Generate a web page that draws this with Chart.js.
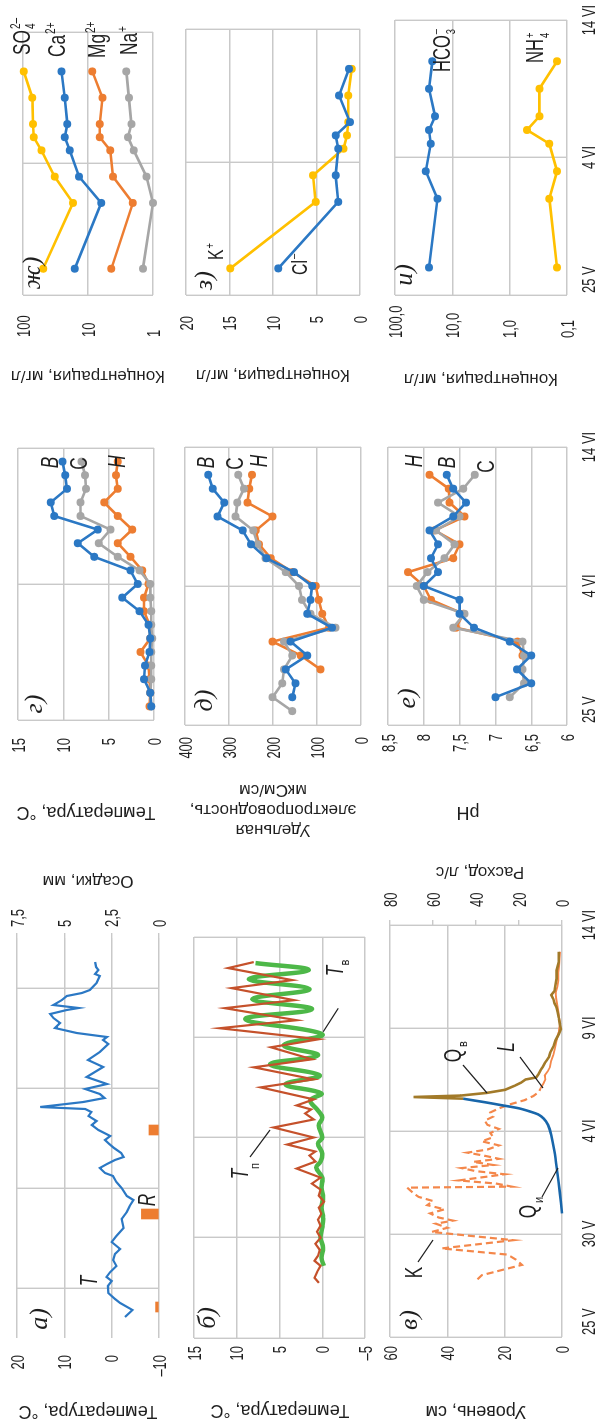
<!DOCTYPE html>
<html>
<head>
<meta charset="utf-8">
<script src="https://cdn.jsdelivr.net/npm/chart.js@4.4.1/dist/chart.umd.min.js"></script>
<style>
html, body { margin: 0; padding: 0; background: #fff; overflow: hidden; }
body { width: 598px; height: 1422px; position: relative; }
#fig { position: absolute; left: 0; top: 0; width: 1422px; height: 598px;
       transform-origin: 0 0; transform: rotate(-90deg) translate(-1422px, 0); }
#fig canvas { position: absolute; }
</style>
</head>
<body>
<div id="fig"></div>
<script>
// days are counted from 25 May (25 V = 0, 14 VI = 20)
var dateTickDays = [0, 5, 10, 15, 20];
var dateTickText = ['25 V', '30 V', '4 VI', '9 VI', '14 VI'];

// a) air temperature T and precipitation R
var airDays = [1.05,1.4,1.75,1.95,2.25,2.6,2.85,3.05,3.3,3.6,3.9,4.2,4.45,4.8,5.1,5.5,5.95,6.3,6.6,6.9,7.1,7.5,7.8,8.1,8.25,8.5,8.7,8.9,9.05,9.25,9.5,9.7,9.9,10.1,10.4,10.65,10.85,11.1,11.3,11.45,11.55,11.8,12.0,12.2,12.45,12.7,13.05,13.55,13.9,14.3,14.7,14.9,15.05,15.25,15.5,15.75,16.0,16.2,16.4,16.5,16.65,16.9,17.1,17.25,17.4,17.75,18.1,18.2,18.4,18.55,18.8];
var airTemp = [-2.8,-4.4,-1.8,-0.7,0.7,0.8,0,1.1,0.3,-1.0,-0.3,-0.7,-1.8,0,-1.0,-2.5,-2.1,-3.2,-3.8,-4.6,-3.2,-2.1,-1.0,-0.3,1.4,2.5,1.0,-0.7,-2.5,-2.0,-0.5,0.5,1.4,0.3,2.8,4.2,3.2,4.9,4.3,5.6,15.1,6.0,1.5,2.5,5.6,1.0,5.3,1.8,5.0,2.5,0.7,1.8,1.0,7.4,12.0,10.9,12.3,13.0,9.5,7.0,12.3,10.5,9.5,6.3,4.6,3.2,2.5,3.5,2.8,3.3,3.5];
var rainDays = [1.55, 6.2, 10.4];
var rainMm = [0.18, 0.93, 0.53];

// б) temperature Tп (red) and Tв (green)
var soilDays = [2.75,3.0,3.3,3.6,3.85,4.1,4.4,4.7,5.0,5.3,5.6,5.9,6.2,6.5,6.8,7.1,7.4,7.7,8.0,8.45,8.8,9.1,9.3,9.65,10.0,10.5,10.9,11.2,11.4,11.6,11.9,12.5,12.9,13.5,13.9,14.5,14.9,15.45,15.85,16.45,16.85,17.45,17.85,18.45,18.75];
var soilTemp = [0.4,0.9,0.6,0.2,0.9,0.5,0.3,0.8,0.2,0.6,0.2,0.5,0.1,0.4,-0.2,0.4,0.2,1.2,0.2,3.0,0.8,1.5,0.8,4.1,1.0,5.7,1.0,2.0,1.3,3.0,1.0,7.2,1.0,8.0,1.2,6.0,0.4,12.0,3.0,11.4,3.3,10.6,3.5,11.0,8.0];
var waterDays = [3.6,4.0,4.5,5.0,5.5,6.0,6.5,7.0,7.5,8.0,8.5,8.8,9.2,9.7,10.0,10.6,11.0,11.4,11.85,12.2,12.65,13.1,13.65,14.1,14.6,15.15,15.9,16.4,16.9,17.4,17.9,18.35,18.7];
var waterTemp = [-0.2,0.1,-0.1,0.2,0.0,-0.1,0.1,-0.1,0.1,0.0,0.7,0.2,0.0,0.5,0.0,0.4,0.0,0.6,1.4,0.1,4.3,0.3,6.1,0.5,4.5,0.0,9.0,1.2,8.2,1.5,8.6,1.6,7.8];

// в) level K, L (cm) and discharge Qи, Qв (l/s)
var levelKDays = [2.8,3.0,3.5,3.75,4.0,4.3,4.7,5.1,5.3,5.5,5.65,5.8,6.0,6.2,6.4,6.6,6.8,7.0,7.25,7.3,7.45,7.6,7.75,7.9,8.05,8.2,8.35,8.5,8.65,8.8,8.95,9.1,9.3,9.5,9.7,9.9,10.1,10.3,10.5,10.7,10.9,11.1,11.3,11.5,11.7,11.9,12.05];
var levelK = [29.5,28,14,16,19,42,17,45.5,40,44,38,43,46,41,47,45,50,52,54,17.5,23,36,28,20,30,35,24,31,22,27,33,26,22,28,24,25,22,26,27,24,25,22,18,13,10,8,7.6];
var levelLDays = [12.05,12.3,12.5,12.7,12.9,13.1,13.4,13.7,14.0,14.4,14.8,15.2,15.5,15.8,16.1,16.4,16.7,17.0,17.3,17.6,18.0,18.4,18.7];
var levelL = [7.6,6.5,5.8,6.0,5.0,4.2,3.8,3.0,2.5,1.9,1.2,0.7,1.0,1.3,1.6,2.0,2.2,1.6,1.3,1.4,1.0,0.8,0.7];
var flowIDays = [6.0,7.0,8.1,9.0,9.8,10.3,10.6,10.8,10.95,11.1,11.25,11.4,11.5,11.57];
var flowI = [0,1.0,2.3,3.5,5.0,6.5,8.5,11,15,20,28,36,42,46];
var flowWDays = [11.57,11.65,11.72,11.85,12.0,12.2,12.35,12.5,12.6,12.75,12.95,13.1,13.3,13.45,13.6,13.8,14.1,14.4,14.7,14.95,15.2,15.5,15.75,16.0,16.2,16.4,16.6,16.8,17.1,17.4,17.8,18.2,18.7];
var flowW = [46,69,47,35,26.5,22,19,17,12,11,10,9,8,7,6,5.5,4,3,1.5,0.5,1,1.5,2,2.5,3.5,4,5,3.5,3,2.5,2.5,1.5,1.5];

// г) water temperature at B, C, H
var wtDays = [1,2,3,4,5,6,7,8,9,10,11,12,13,14,15,16,17,18,19];
var wtB = [0.3,0.4,1.1,1.0,0.5,0.4,0.6,1.6,3.5,1.8,2.6,6.6,8.4,6.2,11.0,11.4,9.6,9.8,10.1];
var wtC = [0.3,0.4,0.3,0.3,0.3,0.2,0.3,0.3,0.4,0.4,1.6,4.0,6.1,4.8,8.1,8.1,7.5,7.6,8.0];
var wtH = [0.5,0.4,0.5,0.6,1.5,0.4,0.5,1.1,1.1,0.6,1.3,2.6,4.0,2.4,4.0,5.5,4.0,4.2,4.0];

// д) specific conductance, uS/cm
var ecDays = [1,2,3,4,5,6,7,8,9,10,11,12,13,14,15,16,17,18];
var ecB = [null,156,149,171,122,160,66,122,115,111,152,215,250,269,326,311,337,347];
var ecC = [156,201,179,175,156,175,58,115,134,141,171,217,235,245,285,281,266,279];
var ecH = [null,null,null,92,137,201,73,88,96,103,156,205,232,239,201,258,254,248];

// е) pH
var phDays = [2,3,4,5,6,7,8,9,10,11,12,13,14,15,16,17,18];
var phB = [7.0,6.5,6.7,6.5,6.8,7.3,7.5,7.5,8.0,7.8,7.9,7.8,7.92,7.59,7.41,7.59,7.68];
var phC = [6.8,6.6,6.62,6.6,6.62,7.59,7.43,8.0,8.1,7.95,7.71,7.57,7.83,7.5,7.8,7.45,7.29];
var phH = [null,null,null,6.62,6.69,7.55,7.45,7.9,8.0,8.22,7.59,7.5,7.85,7.43,7.64,7.65,7.92];

// ж) з) и) ions, mg/l
var ionDays = [2,7,9,11,12,13,15,17];
var so4 = [49,17,32.6,52,68.5,70,71.8,97];
var ca = [16,6.24,13.7,19.1,22.8,20.8,22.8,25.6];
var mg = [4.37,2.04,4.12,4.53,6.6,6.6,6.0,8.57];
var na = [1.43,1.0,1.26,1.98,2.43,2.15,2.35,2.57];
var cl = [9.4,2.5,2.8,2.5,2.8,1.15,2.4,1.27];
var kIon = [14.9,5.1,5.4,1.9,1.5,1.35,1.35,0.96];
var hco3 = [25.5,18.2,29.1,23.8,25.5,20.0,25.5,22.3];
var nh4 = [0.149,0.203,0.149,0.203,0.497,0.303,0.303,0.149];

var GRID = '#c9c9c9', INK = '#1f1f1f';
var BLUE = '#2b78c4', GRAY = '#a6a6a6', ORANGE = '#ed7d31', GOLD = '#ffc000';
var SANS = '"Liberation Sans", Arial, sans-serif';
var SERIF = '"Liberation Serif", "Times New Roman", serif';
var NARROW = 0.72;
var fig = document.getElementById('fig');

function xy(xs, ys) {
    return xs.map(function (x, i) { return { x: x, y: ys[i] }; }).filter(function (p) { return p.y !== null; });
}

function comma(v) { return String(v).replace('.', ',').replace('-', '–'); }

function axis(min, max, step, extra) {
    return Object.assign({
        type: 'linear', min: min, max: max, offset: false,
        ticks: { display: false, stepSize: step },
        grid: { color: GRID, lineWidth: 1.4, drawTicks: false },
        border: { display: false },
        afterFit: function (s) { if (s.isHorizontal()) s.height = 0; else s.width = 0; }
    }, extra || {});
}

function rightAxis(min, max, step) {
    return axis(min, max, step, {
        position: 'right',
        grid: { color: GRID, lineWidth: 1.4, drawOnChartArea: false, drawTicks: true, tickLength: 5 }
    });
}

function logAxis(values) {
    return {
        type: 'logarithmic', min: values[0], max: values[values.length - 1],
        ticks: { display: false },
        grid: { color: GRID, lineWidth: 1.4, drawTicks: false },
        border: { display: false },
        afterBuildTicks: function (s) { s.ticks = values.map(function (v) { return { value: v }; }); },
        afterFit: function (s) { s.width = 0; }
    };
}

function ser(xs, ys, color, extra) {
    return Object.assign({
        data: xy(xs, ys), borderColor: color, backgroundColor: color, borderWidth: 2.6,
        pointRadius: 4, pointBorderWidth: 0, pointBackgroundColor: color, clip: 8
    }, extra || {});
}

function put(ctx, t, x, y, o) {
    o = o || {};
    ctx.save();
    ctx.translate(x, y);
    if (o.rot) ctx.rotate(o.rot);
    ctx.scale(o.sx || 1, 1);
    ctx.font = (o.it ? 'italic ' : '') + (o.size || 18) + 'px ' + (o.serif ? SERIF : SANS);
    ctx.fillStyle = INK;
    ctx.textAlign = o.align || 'center';
    ctx.textBaseline = o.base || 'middle';
    ctx.fillText(t, 0, 0);
    ctx.restore();
}

function chem(ctx, x, cy, c) {
    var size = c.size || 24;
    ctx.save();
    ctx.font = size + 'px ' + SANS;
    var w = ctx.measureText(c.t).width * NARROW;
    ctx.restore();
    var base = cy + size * 0.36;
    var small = Math.round(size * 0.58);
    put(ctx, c.t, x, base, { size: size, sx: NARROW, align: 'left', base: 'alphabetic' });
    if (c.sup) put(ctx, c.sup, x + w + 1, base - size * 0.42, { size: small, sx: NARROW, align: 'left', base: 'alphabetic' });
    if (c.sub) put(ctx, c.sub, x + w + 1, base + size * 0.24, { size: small, sx: NARROW, align: 'left', base: 'alphabetic' });
}

function drawDeco(chart, box, d) {
    var ctx = chart.ctx;
    var X = function (v) { return v - box[0]; };
    var Y = function (v) { return v - box[1]; };
    (d.yLabels || []).forEach(function (L) {
        var sc = chart.scales[L.axis];
        sc.ticks.forEach(function (t) {
            put(ctx, L.fmt(t.value), X(L.x), sc.getPixelForValue(t.value) + 6.5,
                { align: L.align, base: 'alphabetic', sx: NARROW });
        });
    });
    if (d.xLabels) {
        var sx = chart.scales.x;
        sx.ticks.forEach(function (t, i) {
            var px = sx.getPixelForValue(t.value);
            var txt = dateTickText[dateTickDays.indexOf(t.value)];
            put(ctx, txt, i === 0 ? px + 2 : px, Y(595),
                { align: i === 0 ? 'left' : 'center', base: 'alphabetic', sx: NARROW });
        });
    }
    (d.titles || []).forEach(function (T) {
        put(ctx, T.t, X(T.x), Y(T.y), { rot: -Math.PI / 2, size: T.size || 18 });
    });
    (d.texts || []).forEach(function (T) {
        put(ctx, T.t, X(T.x), Y(T.y), T.o);
    });
    ctx.save();
    ctx.strokeStyle = INK;
    ctx.lineWidth = 1.2;
    (d.lines || []).forEach(function (l) {
        ctx.beginPath();
        ctx.moveTo(X(l[0]), Y(l[1]));
        ctx.lineTo(X(l[2]), Y(l[3]));
        ctx.stroke();
    });
    ctx.restore();
    (d.chem || []).forEach(function (c) { chem(ctx, X(c.x), Y(c.y), c); });
}

function panel(box, area, datasets, scales, deco) {
    var c = document.createElement('canvas');
    c.width = box[2];
    c.height = box[3];
    c.style.left = box[0] + 'px';
    c.style.top = box[1] + 'px';
    c.style.width = box[2] + 'px';
    c.style.height = box[3] + 'px';
    fig.appendChild(c);
    new Chart(c, {
        type: 'line',
        data: { datasets: datasets },
        options: {
            responsive: false,
            animation: false,
            devicePixelRatio: 1,
            layout: { padding: { left: area[0] - box[0], top: area[1] - box[1],
                                 right: box[0] + box[2] - area[2], bottom: box[1] + box[3] - area[3] } },
            plugins: { legend: { display: false }, tooltip: { enabled: false } },
            elements: { line: { tension: 0 } },
            scales: scales
        },
        plugins: [{ id: 'deco', afterDraw: function (chart) { drawDeco(chart, box, deco); } }]
    });
}

var label = { size: 26, it: true, serif: true };
var tag = { size: 23, it: true, sx: 0.75 };
var tagUp = { size: 23, sx: 0.75 };
var sub = { size: 13, sx: 0.85 };

// а)
panel([0, 0, 600, 178], [84, 17, 484, 159], [
    ser(airDays, airTemp, BLUE, { borderWidth: 2.2, pointRadius: 0 }),
    { type: 'bar', data: xy(rainDays, rainMm), yAxisID: 'y2', backgroundColor: ORANGE, borderWidth: 0, barThickness: 10 }
], { x: axis(0, 20, 5), y: axis(-10, 20, 10), y2: rightAxis(0, 7.5, 2.5) }, {
    yLabels: [{ axis: 'y', x: 67, align: 'right', fmt: comma }, { axis: 'y2', x: 495, align: 'left', fmt: comma }],
    titles: [{ t: 'Температура, °С', x: 11, y: 88 }, { t: 'Осадки, мм', x: 541, y: 88, size: 17 }],
    texts: [{ t: 'а)', x: 103, y: 40, o: label }, { t: 'T', x: 141, y: 91, o: tag }, { t: 'R', x: 222, y: 149, o: tag }]
});

// б)
panel([0, 178, 600, 202], [84, 194, 485, 365], [
    ser(soilDays, soilTemp, '#c5512b', { borderWidth: 2.2, pointRadius: 0 }),
    ser(waterDays, waterTemp, '#4db848', { borderWidth: 4.5, pointRadius: 0, tension: 0.4 })
], { x: axis(0, 20, 5), y: axis(-5, 15, 5) }, {
    yLabels: [{ axis: 'y', x: 76, align: 'right', fmt: comma }],
    titles: [{ t: 'Температура, °С', x: 12, y: 280 }],
    texts: [{ t: 'б)', x: 104, y: 208, o: label },
            { t: 'T', x: 248, y: 241.5, o: tag }, { t: 'п', x: 256, y: 255, o: sub },
            { t: 'T', x: 451, y: 336.5, o: tag }, { t: 'в', x: 459.5, y: 345, o: sub }],
    lines: [[265, 250, 292, 270], [413.7, 338.3, 390.3, 323.3]]
});

// в)
panel([0, 380, 600, 218], [85, 390, 497, 562], [
    ser(flowWDays, flowW, '#a27a29', { pointRadius: 0, yAxisID: 'y2' }),
    ser(flowIDays, flowI, '#1866aa', { pointRadius: 0, yAxisID: 'y2', tension: 0.3 }),
    ser(levelLDays, levelL, '#f4874a', { borderWidth: 1.8, pointRadius: 0 }),
    ser(levelKDays, levelK, '#f4874a', { borderWidth: 2.2, pointRadius: 0, borderDash: [7, 4] })
], { x: axis(0, 20, 5), y: axis(0, 60, 20), y2: rightAxis(0, 80, 20) }, {
    yLabels: [{ axis: 'y', x: 76, align: 'right', fmt: comma }, { axis: 'y2', x: 515, align: 'left', fmt: comma }],
    xLabels: true,
    titles: [{ t: 'Уровень, см', x: 11, y: 476 }, { t: 'Расход, л/с', x: 550, y: 480, size: 17 }],
    texts: [{ t: 'в)', x: 102, y: 410, o: label },
            { t: 'K', x: 149.5, y: 415.5, o: tagUp },
            { t: 'Q', x: 366.5, y: 454.5, o: tagUp }, { t: 'в', x: 378, y: 463, o: sub },
            { t: 'L', x: 375, y: 507.5, o: tag },
            { t: 'Q', x: 210.5, y: 529.5, o: tagUp }, { t: 'и', x: 222, y: 539, o: sub }],
    lines: [[160, 418, 182, 433], [357, 463, 329, 487], [365, 520, 334, 543], [225, 542, 254, 558]]
});

// г)
panel([575, 0, 440, 178], [702, 18, 974, 154], [
    ser(wtDays, wtB, BLUE), ser(wtDays, wtC, GRAY), ser(wtDays, wtH, ORANGE)
], { x: axis(0, 20, 10), y: axis(0, 15, 5) }, {
    yLabels: [{ axis: 'y', x: 684, align: 'right', fmt: comma }],
    titles: [{ t: 'Температура, °С', x: 610, y: 86 }],
    texts: [{ t: 'г)', x: 718, y: 35, o: label },
            { t: 'B', x: 959.5, y: 51.5, o: tag }, { t: 'C', x: 958.5, y: 80.5, o: tagUp }, { t: 'H', x: 960.5, y: 118.5, o: tag }]
});

// д)
panel([575, 178, 440, 202], [697, 185, 975, 361], [
    ser(ecDays, ecB, BLUE), ser(ecDays, ecC, GRAY), ser(ecDays, ecH, ORANGE)
], { x: axis(0, 20, 10), y: axis(0, 400, 100) }, {
    yLabels: [{ axis: 'y', x: 685, align: 'right', fmt: comma }],
    titles: [{ t: 'Удельная', x: 592, y: 273, size: 17 }, { t: 'электропроводность,', x: 612, y: 273, size: 17 },
             { t: 'мкСм/см', x: 632, y: 273, size: 17 }],
    texts: [{ t: 'д)', x: 721.5, y: 205, o: label },
            { t: 'B', x: 959.5, y: 207.5, o: tag }, { t: 'C', x: 958.5, y: 236.5, o: tagUp }, { t: 'H', x: 961, y: 261, o: tag }]
});

// е)
panel([575, 380, 440, 218], [697, 388, 975, 567], [
    ser(phDays, phB, BLUE), ser(phDays, phC, GRAY), ser(phDays, phH, ORANGE)
], { x: axis(0, 20, 10), y: axis(6, 8.5, 0.5) }, {
    yLabels: [{ axis: 'y', x: 688, align: 'right', fmt: comma }],
    xLabels: true,
    titles: [{ t: 'pH', x: 610, y: 468 }],
    texts: [{ t: 'е)', x: 723.5, y: 408, o: label },
            { t: 'H', x: 961, y: 415.5, o: tag }, { t: 'B', x: 959.5, y: 448.5, o: tag }, { t: 'C', x: 955.5, y: 487.5, o: tagUp }]
});

// ж)
panel([1015, 0, 407, 178], [1127, 23, 1390, 153], [
    ser(ionDays, so4, GOLD), ser(ionDays, ca, BLUE), ser(ionDays, mg, ORANGE), ser(ionDays, na, GRAY)
], { x: axis(0, 20, 10), y: logAxis([1, 10, 100]) }, {
    yLabels: [{ axis: 'y', x: 1085, align: 'left', fmt: String }],
    titles: [{ t: 'Концентрация, мг/л', x: 1046, y: 88, size: 17 }],
    texts: [{ t: 'ж)', x: 1149, y: 33, o: label }],
    chem: [{ t: 'SO', sup: '2–', sub: '4', x: 1367, y: 21 }, { t: 'Ca', sup: '2+', x: 1365, y: 56 },
           { t: 'Mg', sup: '2+', x: 1364, y: 96 }, { t: 'Na', sup: '+', x: 1367, y: 128.5 }]
});

// з)
panel([1015, 178, 407, 202], [1127, 186, 1393, 360], [
    ser(ionDays, cl, BLUE), ser(ionDays, kIon, GOLD)
], { x: axis(0, 20, 10), y: axis(0, 20, 5) }, {
    yLabels: [{ axis: 'y', x: 1106, align: 'right', fmt: comma }],
    titles: [{ t: 'Концентрация, мг/л', x: 1047, y: 273, size: 17 }],
    texts: [{ t: 'з)', x: 1141.5, y: 205, o: label }],
    chem: [{ t: 'K', sup: '+', x: 1162, y: 215.5, size: 22 }, { t: 'Cl', sup: '–', x: 1147, y: 299.5, size: 22 }]
});

// и)
panel([1015, 380, 407, 218], [1127, 395, 1402, 567], [
    ser(ionDays, hco3, BLUE), ser(ionDays, nh4, GOLD)
], { x: axis(0, 20, 10), y: logAxis([0.1, 1, 10, 100]) }, {
    yLabels: [{ axis: 'y', x: 1084, align: 'left', fmt: function (v) { return v.toFixed(1).replace('.', ','); } }],
    xLabels: true,
    titles: [{ t: 'Концентрация, мг/л', x: 1043, y: 481, size: 17 }],
    texts: [{ t: 'и)', x: 1147, y: 405, o: label }],
    chem: [{ t: 'HCO', sup: '–', sub: '3', x: 1350, y: 441.5, size: 23 }, { t: 'NH', sup: '+', sub: '4', x: 1359, y: 535, size: 23 }]
});
</script>
</body>
</html>
